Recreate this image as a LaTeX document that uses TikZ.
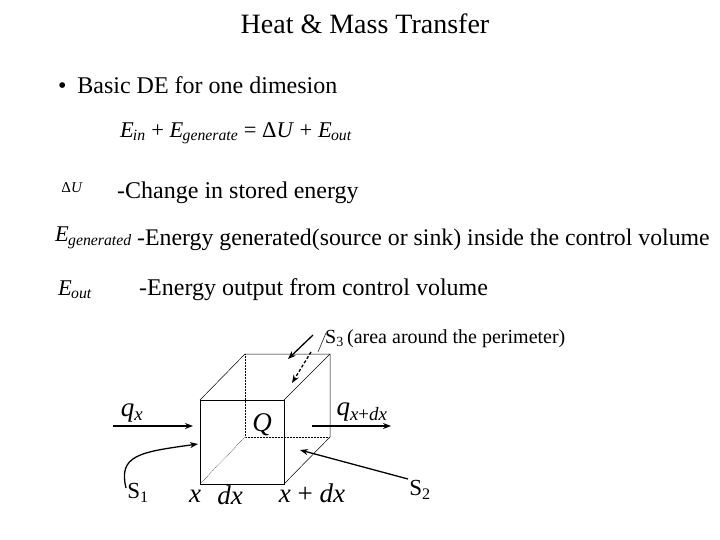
\documentclass[tikz,border=0pt]{standalone}
\usepackage{fontspec}
\setmainfont{Liberation Serif}
\usetikzlibrary{arrows.meta}
\newcommand{\ee}[1]{\textit{E}\textsubscript{\kern-0.05em\textit{#1}}}
\begin{document}
\begin{tikzpicture}[x=1pt,y=-1pt,
  txt/.style={inner sep=0pt,font=\fontsize{24}{26}\selectfont},
  mth/.style={inner sep=0pt,font=\fontsize{22.5}{24}\selectfont},
  lab/.style={inner sep=0pt,font=\fontsize{27}{29}\selectfont},
  edge/.style={line width=0.5pt},
  hid/.style={line width=0.5pt,densely dotted},
  arr/.style={line width=1.3pt,-{Stealth[length=8pt,width=6pt]}}]
\useasboundingbox[fill=white] (0,0) rectangle (720,540);
\node[inner sep=0pt,font=\fontsize{28}{30}\selectfont] (title) at (365,24) {Heat \& Mass Transfer};
\node[txt,anchor=west] (b1) at (58,85) {\textbullet\hspace{0.45em}Basic DE for one dimesion};
\node[mth] (eq) at (236,133) {\ee{in} + \ee{generate} = Δ\textit{U} + \ee{out}};
\node[inner sep=0pt,font=\fontsize{15}{16}\selectfont] (du) at (72,188) {Δ\textit{U}};
\node[txt,anchor=west] (t1) at (117,193) {-Change in stored energy};
\node[mth,anchor=west] (eg) at (55,238) {\ee{generated}};
\node[txt,anchor=west,font=\fontsize{23.8}{26}\selectfont] (t2) at (137,240) {-Energy generated(source or sink) inside the control volume};
\node[mth,anchor=west] (eo) at (58,290) {\ee{out}};
\node[txt,anchor=west] (t3) at (139,290) {-Energy output from control volume};
% cube
\coordinate (f1) at (200,400); \coordinate (f2) at (284,400);
\coordinate (f3) at (284,484); \coordinate (f4) at (200,484);
\coordinate (b1c) at (245,354); \coordinate (b2) at (330,354);
\coordinate (b3) at (330,437); \coordinate (b4) at (245,437);
\draw[edge] (f1) -- (f2) -- (f3) -- (f4) -- cycle;
\draw[edge] (f1) -- (b1c) -- (b2) -- (b3) -- (f3);
\draw[edge] (f2) -- (b2);
\draw[hid] (b1c) -- (b4) -- (b3);
\draw[hid] (b4) -- (f4);
% labels
\node[lab,font=\fontsize{27}{29}\selectfont\itshape] (Q) at (262,425) {Q};
\node[lab] (qx) at (132,413) {\textit{q}\textsubscript{\textit{x}}};
\node[lab] (qxd) at (362,412) {\textit{q}\textsubscript{\textit{x}+\textit{dx}}};
\node[lab,font=\fontsize{27}{29}\selectfont\itshape,anchor=base] (x) at (195,502) {x};
\node[lab,font=\fontsize{27}{29}\selectfont\itshape,anchor=base] (dx) at (230,504) {dx};
\node[lab,anchor=base] (xdx) at (312,502) {\textit{x} + \textit{dx}};
\node[inner sep=0pt,font=\fontsize{23}{24}\selectfont] (s1) at (138,493) {S\textsubscript{1}};
\node[inner sep=0pt,font=\fontsize{23}{24}\selectfont] (s2) at (420,490) {S\textsubscript{2}};
\node[inner sep=0pt,font=\fontsize{20}{22}\selectfont,anchor=west] (s3) at (325,339) {S\textsubscript{3}\,(area around the perimeter)};
% arrows
\coordinate (qa0) at (113,426); \coordinate (qa1) at (193,426);
\draw[arr] (qa0) -- (qa1);
\coordinate (qb0) at (312,426); \coordinate (qb1) at (391,426);
\draw[arr] (qb0) -- (qb1);
\coordinate (c0) at (126,488); \coordinate (c1) at (198,444);
\draw[arr] (c0) .. controls (118,455) and (140,452) .. (c1);
\coordinate (d0) at (408,479); \coordinate (d1) at (300,450);
\draw[arr] (d0) -- (d1);
\coordinate (e0) at (313,335); \coordinate (e1) at (288,359);
\draw[arr] (e0) -- (e1);
\coordinate (g0) at (311,352); \coordinate (g1) at (292,383);
\draw[arr,dashed,dash pattern=on 3pt off 2pt] (g0) -- (g1);
\coordinate (h0) at (326,333); \coordinate (h1) at (318,352);
\draw[edge] (h0) -- (h1);
\end{tikzpicture}
\end{document}
